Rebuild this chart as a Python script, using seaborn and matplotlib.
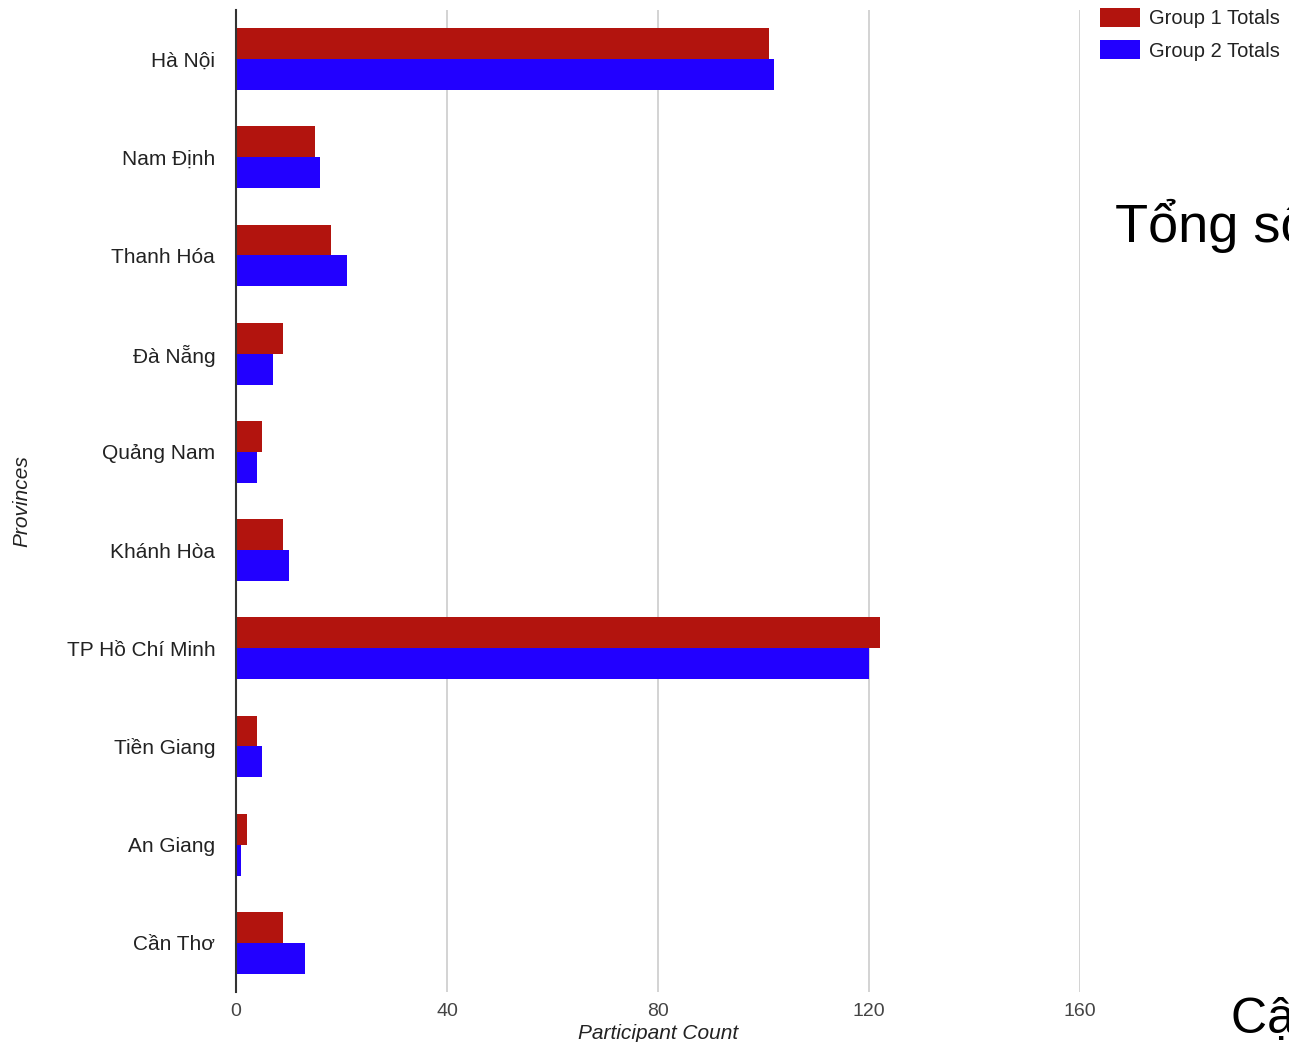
import matplotlib
matplotlib.use("Agg")
import matplotlib.pyplot as plt
import seaborn as sns
import pandas as pd
from matplotlib.patches import Patch

provinces = ["Hà Nội", "Nam Định", "Thanh Hóa", "Đà Nẵng", "Quảng Nam",
             "Khánh Hòa", "TP Hồ Chí Minh", "Tiền Giang", "An Giang", "Cần Thơ"]
group1 = [101, 15, 18, 9, 5, 9, 122, 4, 2, 9]
group2 = [102, 16, 21, 7, 4, 10, 120, 5, 1, 13]
series_names = ["Group 1 Totals", "Group 2 Totals"]
colors = ["#b2140e", "#2200ff"]
xticks = [0, 40, 80, 120, 160]

df = pd.DataFrame({
    "Province": provinces * 2,
    "Count": group1 + group2,
    "Series": [series_names[0]] * len(provinces) + [series_names[1]] * len(provinces),
})

sns.set_style("white")
plt.rcParams["font.family"] = ["Liberation Sans", "DejaVu Sans"]

fig = plt.figure(figsize=(12.89, 10.42), dpi=100)
ax = fig.add_axes([236 / 1289, 1 - 992 / 1042, (1080 - 236) / 1289, (992 - 10) / 1042])

sns.barplot(data=df, y="Province", x="Count", hue="Series", order=provinces,
            hue_order=series_names, palette=colors, saturation=1, width=0.63,
            orient="h", ax=ax, legend=False, linewidth=0)

ax.set_xlim(0, 160)
ax.set_xticks(xticks)
ax.set_xticklabels([str(t) for t in xticks], fontsize=14, color="#444444")
ax.tick_params(axis="y", labelsize=15, labelcolor="#222222", length=0, pad=15)
ax.tick_params(axis="x", length=0, pad=8)
ax.grid(axis="x", color="#cccccc", linewidth=1.2)
ax.set_axisbelow(True)
for s in ["top", "right", "bottom"]:
    ax.spines[s].set_visible(False)
ax.spines["left"].set_color("#333333")
ax.spines["left"].set_linewidth(1.5)
ax.spines["left"].set_zorder(5)

ax.set_xlabel("Participant Count", fontsize=15, style="italic", color="#222222", labelpad=3)
ax.set_ylabel("")
fig.text(22 / 1289, 1 - 501 / 1042, "Provinces", fontsize=15, style="italic",
         color="#222222", rotation=90, ha="center", va="center")

handles = [Patch(facecolor=c, edgecolor="none") for c in colors]
fig.legend(handles, series_names, loc="upper left", bbox_to_anchor=(1086 / 1289, 1 + 6 / 1042),
           frameon=False, fontsize=14.5, handlelength=2.0, handleheight=1.05,
           handletextpad=0.45, labelspacing=0.6, labelcolor="#222222",
           borderaxespad=0.3)

fig.text(1115 / 1289, 1 - 242 / 1042, "Tổng số", fontsize=39, color="black",
         ha="left", va="baseline")
fig.text(1231 / 1289, 1 - 1033 / 1042, "Cập nhật", fontsize=36, color="black",
         ha="left", va="baseline")

fig.savefig("out.png", dpi=100)
